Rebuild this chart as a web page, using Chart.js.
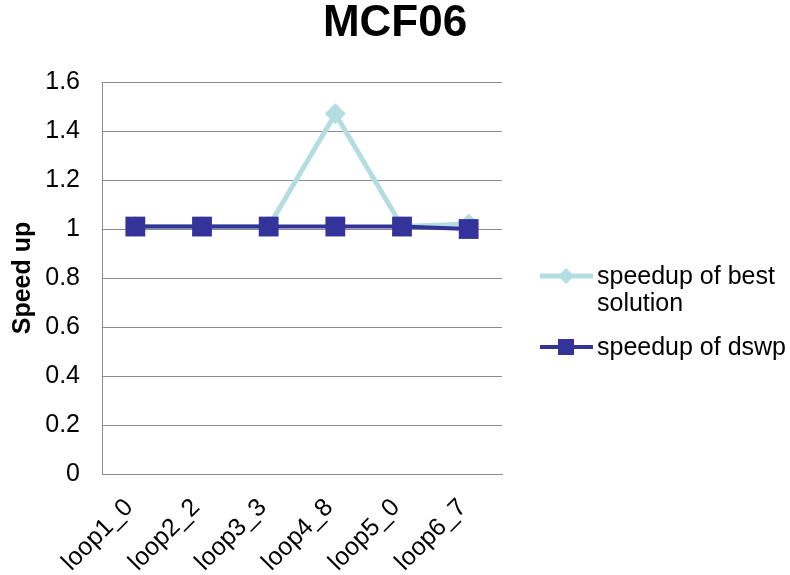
<!DOCTYPE html>
<html>
<head>
<meta charset="utf-8">
<script src="https://cdn.jsdelivr.net/npm/chart.js@4/dist/chart.umd.min.js"></script>
<style>
  html, body { margin: 0; padding: 0; background: #fff; }
  #wrap { width: 790px; height: 575px; }
</style>
</head>
<body>
<div id="wrap"><canvas id="c" width="790" height="575"></canvas></div>
<script>
const chartTitle = "MCF06";
const categories = ["loop1_0", "loop2_2", "loop3_3", "loop4_8", "loop5_0", "loop6_7"];
const bestLabel = ["speedup of best", "solution"];
const dswpLabel = ["speedup of dswp"];
const bestValues = [1.01, 1.01, 1.01, 1.47, 1.01, 1.02];
const dswpValues = [1.01, 1.01, 1.01, 1.01, 1.01, 1.00];
const yTitle = "Speed up";

const FONT = "'Liberation Sans', Arial, sans-serif";
const BEST_COLOR = "#b4dde1";
const DSWP_COLOR = "#333399";
const GRID = "#8c8c8c";

const legendPlugin = {
  id: "customLegend",
  afterDraw(chart) {
    const ctx = chart.ctx;
    ctx.save();
    const items = [
      { text: bestLabel, color: BEST_COLOR, y: 276, shape: "diamond", lw: 5 },
      { text: dswpLabel, color: DSWP_COLOR, y: 347, shape: "square", lw: 4 }
    ];
    items.forEach(it => {
      ctx.strokeStyle = it.color;
      ctx.lineWidth = it.lw;
      ctx.beginPath();
      ctx.moveTo(540, it.y);
      ctx.lineTo(593, it.y);
      ctx.stroke();
      ctx.fillStyle = it.color;
      ctx.beginPath();
      if (it.shape === "diamond") {
        const r = 8;
        ctx.moveTo(566, it.y - r);
        ctx.lineTo(566 + r, it.y);
        ctx.lineTo(566, it.y + r);
        ctx.lineTo(566 - r, it.y);
        ctx.closePath();
      } else {
        ctx.rect(558, it.y - 8, 16, 16);
      }
      ctx.fill();
      ctx.fillStyle = "#000";
      ctx.font = "25px " + FONT;
      ctx.textBaseline = "middle";
      ctx.textAlign = "left";
      it.text.forEach((t, i) => ctx.fillText(t, 597, it.y + 1 + i * 27));
    });
    ctx.restore();
  }
};

new Chart(document.getElementById("c"), {
  type: "line",
  data: {
    labels: categories,
    datasets: [
      {
        label: bestLabel.join(" "),
        data: bestValues,
        borderColor: BEST_COLOR,
        backgroundColor: BEST_COLOR,
        borderWidth: 5,
        pointStyle: "rectRot",
        pointRadius: 10.5,
        pointBorderWidth: 0,
        pointHoverRadius: 10.5,
        tension: 0,
        order: 2,
        yAxisID: "y"
      },
      {
        label: dswpLabel.join(" "),
        data: dswpValues,
        borderColor: DSWP_COLOR,
        backgroundColor: DSWP_COLOR,
        borderWidth: 4,
        pointStyle: "rect",
        pointRadius: 14,
        pointBorderWidth: 0,
        pointHoverRadius: 14,
        tension: 0,
        order: 1,
        yAxisID: "y"
      }
    ]
  },
  options: {
    responsive: false,
    animation: false,
    layout: { padding: 0 },
    plugins: {
      legend: { display: false },
      tooltip: { enabled: false },
      title: {
        display: true,
        text: chartTitle,
        color: "#000",
        font: { family: FONT, size: 44, weight: "bold", lineHeight: 1 },
        padding: { top: 2, bottom: 36 }
      }
    },
    scales: {
      x: {
        type: "category",
        offset: true,
        grid: { display: false, drawTicks: false },
        border: { display: true, color: GRID, width: 1 },
        ticks: {
          color: "#000",
          font: { family: FONT, size: 25 },
          minRotation: 45,
          maxRotation: 45,
          autoSkip: false,
          padding: 19,
          labelOffset: -6
        },
        afterFit(s) { s.height = 101; }
      },
      y: {
        type: "linear",
        position: "left",
        min: 0,
        max: 1.6,
        grid: { color: GRID, lineWidth: 1, drawTicks: false },
        border: { display: true, color: GRID, width: 1 },
        ticks: {
          stepSize: 0.2,
          color: "#000",
          font: { family: FONT, size: 25 },
          padding: 22,
          callback: v => String(Math.round(v * 10) / 10)
        },
        title: {
          display: true,
          text: yTitle,
          color: "#000",
          font: { family: FONT, size: 25, weight: "bold" },
          padding: { top: 8, bottom: 0 }
        },
        afterFit(s) { s.width = 102; }
      },
      yR: {
        type: "linear",
        position: "right",
        display: true,
        min: 0,
        max: 1.6,
        grid: { display: false, drawTicks: false },
        border: { display: false },
        ticks: { display: false },
        afterFit(s) { s.width = 288; }
      }
    }
  },
  plugins: [legendPlugin]
});
</script>
</body>
</html>
